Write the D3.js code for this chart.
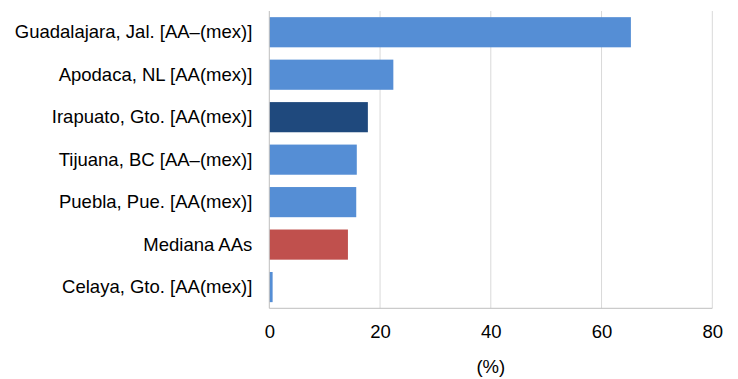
<!DOCTYPE html>
<html><head><meta charset="utf-8">
<script src="https://cdn.jsdelivr.net/npm/d3@7"></script>
<style>body{margin:0;background:#fff}svg{display:block}text{font-family:"Liberation Sans",Arial,sans-serif;fill:#000}</style>
</head><body><svg id="c" width="738" height="379"></svg>
<script>
const categories = ["Guadalajara, Jal. [AA–(mex)]","Apodaca, NL [AA(mex)]","Irapuato, Gto. [AA(mex)]","Tijuana, BC [AA–(mex)]","Puebla, Pue. [AA(mex)]","Mediana AAs","Celaya, Gto. [AA(mex)]"];
const values = [65.3, 22.4, 17.8, 15.8, 15.7, 14.2, 0.6];
const colors = ["#558ED5","#558ED5","#1F497D","#558ED5","#558ED5","#C0504D","#558ED5"];
const xTicks = [0,20,40,60,80];
const xTitle = "(%)";

(function(){
const FS = "18.5px";
const svg = d3.select("#c");
const mLeft = 269.3, mRight = 712.3, mTop = 11, mBottom = 308.3;
const x = d3.scaleLinear().domain([0,80]).range([mLeft,mRight]);
const y = d3.scaleBand().domain(categories).range([mTop,mBottom]).paddingInner(0.29).paddingOuter(0.145);

svg.append("g").selectAll("line").data(xTicks.slice(1)).join("line")
  .attr("x1",d=>x(d)).attr("x2",d=>x(d)).attr("y1",mTop).attr("y2",mBottom)
  .attr("stroke","#d9d9d9").attr("stroke-width",1);

svg.append("g").selectAll("rect").data(values).join("rect")
  .attr("x",x(0)).attr("y",(d,i)=>y(categories[i]))
  .attr("width",d=>x(d)-x(0)).attr("height",y.bandwidth())
  .attr("fill",(d,i)=>colors[i]);

svg.append("line").attr("x1",mLeft).attr("x2",mRight).attr("y1",mBottom).attr("y2",mBottom).attr("stroke","#bfbfbf");
svg.append("line").attr("x1",mLeft).attr("x2",mLeft).attr("y1",mTop).attr("y2",mBottom).attr("stroke","#bfbfbf");

const xa = svg.append("g").attr("transform",`translate(0,${mBottom})`)
  .call(d3.axisBottom(x).tickValues(xTicks).tickSize(0).tickPadding(14).tickFormat(d3.format("d")));
xa.select(".domain").remove();
xa.attr("font-size",FS).attr("font-family","Liberation Sans, Arial, sans-serif");
xa.selectAll("text").attr("dy",null).attr("y",23.5).attr("dominant-baseline","central").style("font-size",FS);

const ya = svg.append("g").attr("transform",`translate(${mLeft},0)`)
  .call(d3.axisLeft(y).tickSize(0).tickPadding(17));
ya.select(".domain").remove();
ya.attr("font-size",FS).attr("font-family","Liberation Sans, Arial, sans-serif");
ya.selectAll("text").style("font-size",FS);

svg.append("text").attr("x",(mLeft+mRight)/2).attr("y",366).attr("dominant-baseline","central").attr("text-anchor","middle")
  .style("font-size",FS).text(xTitle);
})();
</script></body></html>
